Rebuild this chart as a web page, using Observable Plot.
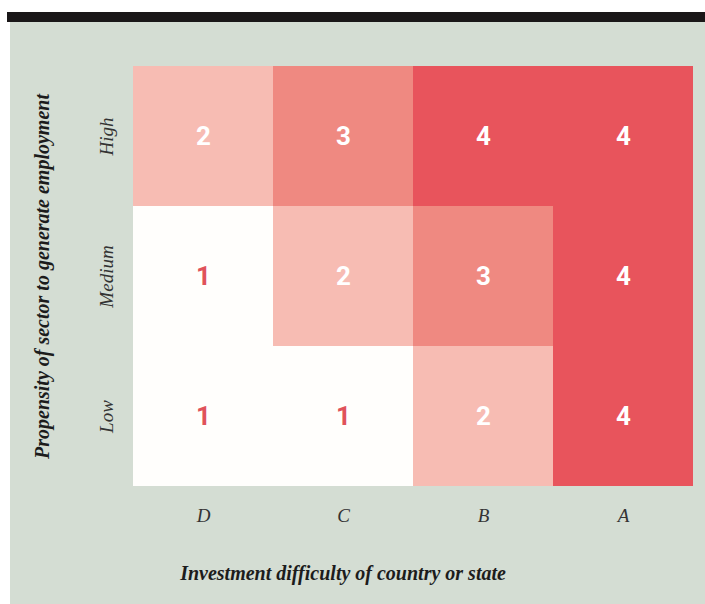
<!DOCTYPE html>
<html>
<head>
<meta charset="utf-8">
<script src="https://cdn.jsdelivr.net/npm/d3@7"></script>
<script src="https://cdn.jsdelivr.net/npm/@observablehq/plot@0.6"></script>
<style>
  html, body { margin: 0; padding: 0; background: #ffffff; }
  #bar { position: absolute; left: 7px; top: 12px; width: 698px; height: 10px; background: #1a1718; }
  #panel { position: absolute; left: 10px; top: 22px; width: 695px; height: 582px; background: #d4ddd3; }
  #panel svg { display: block; background: transparent; }
  g[aria-label="x-axis label"], g[aria-label="y-axis label"] {
    font-family: "Liberation Serif", serif; font-weight: bold; font-style: italic; font-size: 20px; fill: #1c1c1c;
  }
</style>
</head>
<body>
<div id="bar"></div>
<div id="panel"></div>
<script>
const difficulty = ["D", "C", "B", "A"];
const propensity = ["High", "Medium", "Low"];
// scores by row (propensity) and column (difficulty)
const scoresHigh = [2, 3, 4, 4];
const scoresMedium = [1, 2, 3, 4];
const scoresLow = [1, 1, 2, 4];
const levels = [1, 2, 3, 4];
const levelColors = ["#fffefc", "#f7bcb3", "#ef8981", "#e8545c"];
const xTitle = "Investment difficulty of country or state";
const yTitle = "Propensity of sector to generate employment";

const rows = {High: scoresHigh, Medium: scoresMedium, Low: scoresLow};
const data = [];
for (const p of propensity) {
  difficulty.forEach((d, i) => data.push({difficulty: d, propensity: p, score: rows[p][i]}));
}

const chart = Plot.plot({
  width: 695,
  height: 582,
  marginLeft: 122,
  marginRight: 12,
  marginTop: 43,
  marginBottom: 117,
  style: {background: "transparent"},
  x: {domain: difficulty, padding: 0},
  y: {domain: propensity, padding: 0},
  color: {type: "ordinal", domain: levels, range: levelColors},
  marks: [
    Plot.cell(data, {x: "difficulty", y: "propensity", fill: "score", inset: 0}),
    Plot.text(data, {
      x: "difficulty", y: "propensity", text: d => String(d.score),
      fill: d => d.score === 1 ? "#e0525a" : "#ffffff",
      fontFamily: "Roboto, 'DejaVu Sans', sans-serif", fontWeight: "bold", fontSize: 26
    }),
    Plot.axisX({
      anchor: "bottom", tickSize: 0, tickPadding: 21, label: xTitle, labelAnchor: "center", labelOffset: 92,
      fontFamily: "Liberation Serif, serif", fontStyle: "italic", fontSize: 19, fill: "#333333"
    }),
    Plot.axisY({
      anchor: "left", tickSize: 0, tickPadding: 20, tickRotate: -90, label: yTitle, labelAnchor: "center", labelOffset: 98,
      fontFamily: "Liberation Serif, serif", fontStyle: "italic", fontSize: 19, fill: "#333333"
    })
  ]
});
// shift the x-axis title left, as in the reference, keeping Plot's own vertical offset
const xl = chart.querySelector('g[aria-label="x-axis label"]');
if (xl) {
  const t = xl.getAttribute("transform") || "";
  xl.setAttribute("transform", "translate(-70,0) " + t);
}
document.getElementById("panel").appendChild(chart);
</script>
</body>
</html>
